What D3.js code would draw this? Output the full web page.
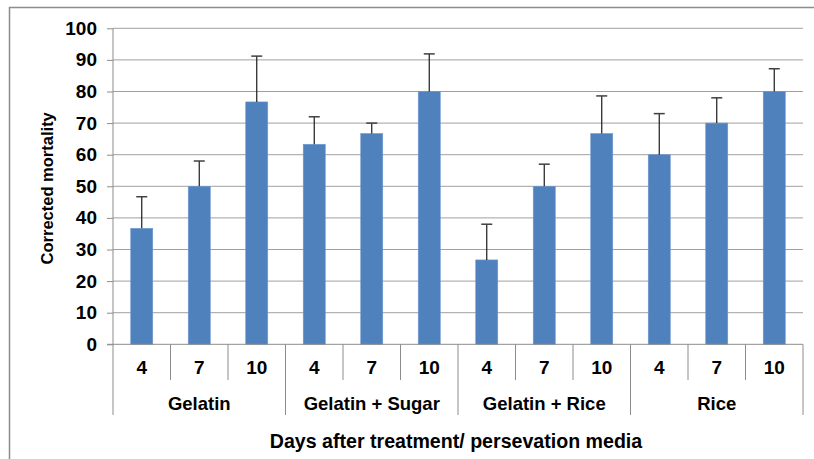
<!DOCTYPE html>
<html><head><meta charset="utf-8">
<script src="https://cdn.jsdelivr.net/npm/d3@7"></script>
<style>body{margin:0;background:#fff}svg{display:block}</style>
</head><body>
<svg id="c" width="814" height="459"></svg>
<script>
const groups = ["Gelatin", "Gelatin + Sugar", "Gelatin + Rice", "Rice"];
const days = ["4", "7", "10"];
const values = [36.7, 50, 76.7, 63.3, 66.7, 80, 26.7, 50, 66.7, 60, 70, 80];
const errorTops = [46.7, 58, 91.2, 72, 70, 91.9, 38, 57, 78.6, 73, 78, 87.2];
const yTicks = [0, 10, 20, 30, 40, 50, 60, 70, 80, 90, 100];

const svg = d3.select("#c");
const font = "'Liberation Sans', Arial, sans-serif";
const L = 113, R = 803, T = 28.3, B = 344.3;

svg.append("rect").attr("x", 9.5).attr("y", 7.5).attr("width", 900).attr("height", 600)
  .attr("fill", "none").attr("stroke", "#8c8c8c").attr("stroke-width", 1.5);

const cats = [];
groups.forEach(g => days.forEach(d => cats.push(g + "|" + d)));
const x = d3.scaleBand().domain(cats).range([L, R]).padding(0);
const y = d3.scaleLinear().domain([0, 100]).range([B, T]);
const bw = x.bandwidth() * 0.383;

// gridlines
svg.append("g").selectAll("line").data(yTicks.filter(v => v > 0)).join("line")
  .attr("x1", L).attr("x2", R).attr("y1", d => y(d)).attr("y2", d => y(d))
  .attr("stroke", "#a0a0a0").attr("stroke-width", 1);

// y axis
const yAxis = d3.axisLeft(y).tickValues(yTicks).tickSize(6).tickPadding(10);
const ga = svg.append("g").attr("transform", `translate(${L},0)`).call(yAxis);
ga.select(".domain").remove();
ga.selectAll(".tick line").attr("stroke", "#8c8c8c");
ga.selectAll(".tick text").attr("font-family", font).attr("font-weight", "bold")
  .attr("font-size", 19).attr("fill", "#000");
svg.append("line").attr("x1", L).attr("x2", L).attr("y1", T).attr("y2", 415)
  .attr("stroke", "#8c8c8c");

// bars
svg.append("g").selectAll("rect").data(values).join("rect")
  .attr("x", (d, i) => x(cats[i]) + (x.bandwidth() - bw) / 2)
  .attr("width", bw)
  .attr("y", d => y(d)).attr("height", d => y(0) - y(d))
  .attr("fill", "#4f81bd").attr("stroke", "#6e98d0").attr("stroke-width", 0.6);

// error bars
const eg = svg.append("g");
values.forEach((v, i) => {
  const cx = x(cats[i]) + x.bandwidth() / 2;
  eg.append("line").attr("x1", cx).attr("x2", cx).attr("y1", y(v)).attr("y2", y(errorTops[i]))
    .attr("stroke", "#1a1a1a").attr("stroke-width", 1.2);
  eg.append("line").attr("x1", cx - 5.5).attr("x2", cx + 5.5).attr("y1", y(errorTops[i])).attr("y2", y(errorTops[i]))
    .attr("stroke", "#404040").attr("stroke-width", 1.5);
});

// x axis base line
svg.append("line").attr("x1", L - 6).attr("x2", R).attr("y1", B).attr("y2", B).attr("stroke", "#8c8c8c");

// category separators
cats.forEach((c, i) => {
  const xx = x(c) + x.bandwidth();
  const isGroup = (i + 1) % 3 === 0;
  svg.append("line").attr("x1", xx).attr("x2", xx).attr("y1", B).attr("y2", isGroup ? 415 : 380)
    .attr("stroke", "#8c8c8c");
});

// day labels
svg.append("g").selectAll("text").data(cats).join("text")
  .attr("x", d => x(d) + x.bandwidth() / 2).attr("y", 367).attr("dy", "0.35em")
  .attr("text-anchor", "middle").attr("font-family", font).attr("font-weight", "bold")
  .attr("font-size", 19).text(d => d.split("|")[1]);

// group labels
svg.append("g").selectAll("text").data(groups).join("text")
  .attr("x", g => (x(g + "|4") + x(g + "|10") + x.bandwidth()) / 2).attr("y", 404).attr("dy", "0.35em")
  .attr("text-anchor", "middle").attr("font-family", font).attr("font-weight", "bold")
  .attr("font-size", 18.5).text(g => g);

// titles
svg.append("text").attr("x", (L + R) / 2 - 2).attr("y", 441).attr("dy", "0.35em")
  .attr("text-anchor", "middle").attr("font-family", font).attr("font-weight", "bold")
  .attr("font-size", 19.6).text("Days after treatment/ persevation media");
svg.append("text").attr("transform", `translate(47,${(T + B) / 2 + 2}) rotate(-90)`).attr("dy", "0.35em")
  .attr("text-anchor", "middle").attr("font-family", font).attr("font-weight", "bold")
  .attr("font-size", 16.5).text("Corrected mortality");
</script>
</body></html>
